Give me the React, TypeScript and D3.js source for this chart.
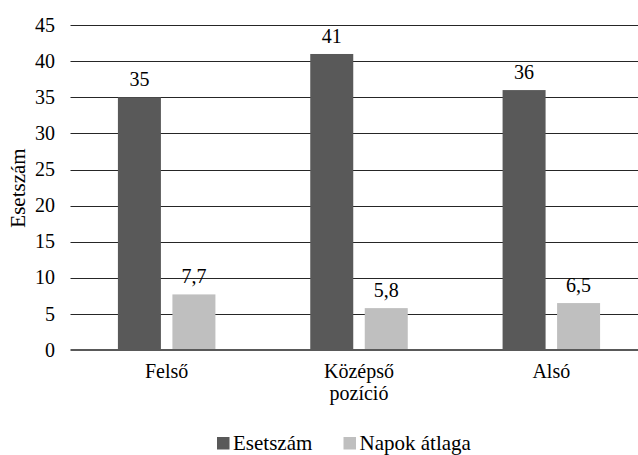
import React, { useEffect, useRef } from 'react';
import * as d3 from 'd3';

const categories = ['Felső', 'Középső pozíció', 'Alsó'];
const esetszam = [35, 41, 36];
const napokAtlaga = [7.7, 5.8, 6.5];
const seriesNames = ['Esetszám', 'Napok átlaga'];
const seriesColors = ['#595959', '#bfbfbf'];
const yTicks = [0, 5, 10, 15, 20, 25, 30, 35, 40, 45];

const App = () => {
  const ref = useRef<SVGSVGElement>(null);

  useEffect(() => {
    const width = 638;
    const height = 455;
    const font = 'Liberation Serif, DejaVu Serif, Tinos, Times New Roman, serif';

    const svg = d3.select(ref.current);
    svg.selectAll('*').remove();

    // scales
    const x0 = d3.scaleBand().domain(categories).range([70.5, 647.5]);
    const x1 = d3.scaleBand()
      .domain(seriesNames)
      .range([0, x0.bandwidth()])
      .paddingInner(0.211)
      .paddingOuter(0.87);
    const y = d3.scaleLinear().domain([0, 45]).range([350, 25.1]);

    // gridlines
    svg.append('g')
      .selectAll('line')
      .data(yTicks.filter(d => d > 0))
      .enter().append('line')
      .attr('x1', 70.5)
      .attr('x2', width)
      .attr('y1', d => Math.round(y(d)) + 0.5)
      .attr('y2', d => Math.round(y(d)) + 0.5)
      .style('stroke', '#262626')
      .style('stroke-width', 1);

    // y tick labels
    svg.append('g')
      .selectAll('text')
      .data(yTicks)
      .enter().append('text')
      .attr('x', 55)
      .attr('y', d => y(d))
      .attr('dy', '0.33em')
      .attr('text-anchor', 'end')
      .attr('font-family', font)
      .attr('font-size', 20)
      .attr('fill', '#000')
      .text(d => d);

    // bars
    const rows = categories.map((c, i) => ({ cat: c, values: [esetszam[i], napokAtlaga[i]] }));
    const groups = svg.append('g')
      .selectAll('g')
      .data(rows)
      .enter().append('g')
      .attr('transform', d => 'translate(' + x0(d.cat) + ',0)');

    groups.selectAll('rect')
      .data(d => d.values.map((v, i) => ({ key: seriesNames[i], v: v, i: i })))
      .enter().append('rect')
      .attr('x', d => x1(d.key) as number)
      .attr('y', d => y(d.v))
      .attr('width', x1.bandwidth())
      .attr('height', d => y(0) - y(d.v))
      .style('fill', d => seriesColors[d.i]);

    // value labels
    groups.selectAll('text')
      .data(d => d.values.map((v, i) => ({ key: seriesNames[i], v: v })))
      .enter().append('text')
      .attr('x', d => (x1(d.key) as number) + x1.bandwidth() / 2)
      .attr('y', d => y(d.v) - 11)
      .attr('text-anchor', 'middle')
      .attr('font-family', font)
      .attr('font-size', 20)
      .attr('fill', '#000')
      .text(d => String(d.v).replace('.', ','));

    // baseline
    svg.append('line')
      .attr('x1', 70.5)
      .attr('x2', width)
      .attr('y1', y(0))
      .attr('y2', y(0))
      .style('stroke', '#595959')
      .style('stroke-width', 2);

    // category labels, wrapped on spaces
    const catLabels = svg.append('g')
      .selectAll('text')
      .data(categories)
      .enter().append('text')
      .attr('x', d => (x0(d) as number) + x0.bandwidth() / 2)
      .attr('y', 378)
      .attr('text-anchor', 'middle')
      .attr('font-family', font)
      .attr('font-size', 20)
      .attr('fill', '#000');
    catLabels.each(function(d) {
      const words = d.split(' ');
      const t = d3.select(this);
      words.forEach((w, i) => {
        t.append('tspan')
          .attr('x', (x0(d) as number) + x0.bandwidth() / 2)
          .attr('dy', i === 0 ? 0 : 22)
          .text(w);
      });
    });

    // axis title
    svg.append('text')
      .attr('transform', 'translate(25,188) rotate(-90)')
      .attr('text-anchor', 'middle')
      .attr('font-family', font)
      .attr('font-size', 21)
      .attr('fill', '#000')
      .text('Esetszám');

    // legend
    const legendX = [217, 343.5];
    const legend = svg.append('g')
      .selectAll('g')
      .data(seriesNames)
      .enter().append('g')
      .attr('transform', (d, i) => 'translate(' + legendX[i] + ',437)');
    legend.append('rect')
      .attr('width', 12.5)
      .attr('height', 12.5)
      .style('fill', (d, i) => seriesColors[i]);
    legend.append('text')
      .attr('x', 16)
      .attr('y', 13)
      .attr('font-family', font)
      .attr('font-size', 21)
      .attr('fill', '#000')
      .text(d => d);

    svg.attr('width', width).attr('height', height);
  }, []);

  return (
    <div style={{ position: 'fixed', left: 0, top: 0 }}>
      <svg ref={ref} width={638} height={455} style={{ display: 'block', background: '#fff' }} />
    </div>
  );
};

export default App;
